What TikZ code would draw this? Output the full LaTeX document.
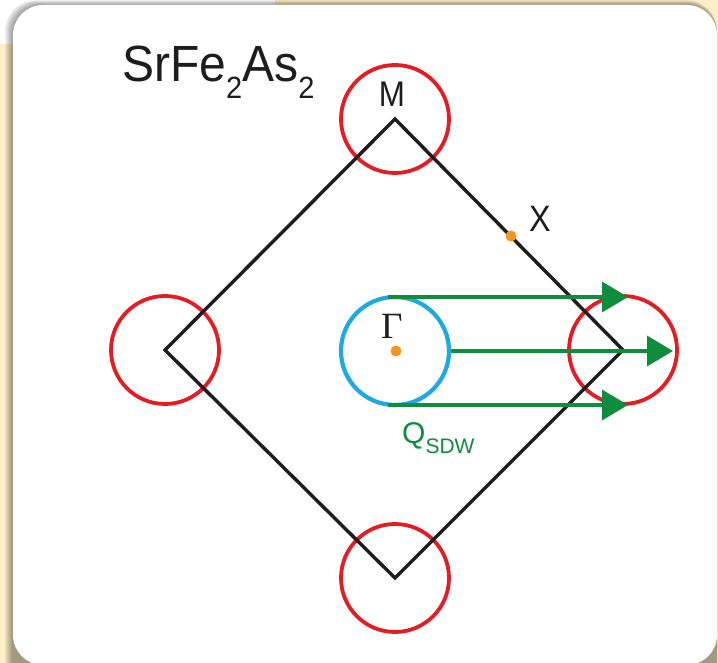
\documentclass[tikz,border=0pt]{standalone}
\usepackage{fontspec}
\setmainfont{Liberation Sans}
\newfontfamily\serifgr{Liberation Serif}
\usetikzlibrary{arrows.meta}
\definecolor{fsred}{RGB}{228,28,36}
\definecolor{fsblue}{RGB}{30,170,225}
\definecolor{fsgreen}{RGB}{15,140,60}
\definecolor{fsorange}{RGB}{245,150,30}
\definecolor{fsblack}{RGB}{30,28,28}
\definecolor{bgbeige}{RGB}{252,238,200}
\begin{document}
\begin{tikzpicture}[x=1pt,y=-1pt,
  pocket/.style={circle, draw=fsred, line width=3.8pt, minimum size=108pt, inner sep=0pt},
  gpocket/.style={circle, draw=fsblue, line width=4.2pt, minimum size=108pt, inner sep=0pt},
  dot/.style={circle, fill=fsorange, minimum size=11pt, inner sep=0pt},
  qarrow/.style={draw=fsgreen, line width=3.6pt, -{Triangle[length=26pt,width=30pt]}},
  lbl/.style={inner sep=0pt, text=fsblack}]
\useasboundingbox (0,0) rectangle (718,663);
\clip (0,0) rectangle (718,663);
% background
\fill[bgbeige] (0,0) rectangle (718,663);
\fill[white] (0,0) rectangle (275,44);
\foreach \i in {1,...,8}
  \fill[black, opacity=0.05, rounded corners=30pt] (13-\i,5-0.6*\i) rectangle (717,700);
\fill[white, rounded corners=30pt] (13,5) rectangle (717,665);
% pockets
\node[pocket] (cM) at (395,119) {};
\node[pocket] (cL) at (165,350) {};
\node[pocket] (cR) at (623,350) {};
\node[pocket] (cB) at (395,578) {};
% zone boundary
\draw[fsblack, line width=3.4pt, line join=miter] (cM.center) -- (cR.center) -- (cB.center) -- (cL.center) -- cycle;
\node[gpocket] (cG) at (395,351) {};
% dots
\node[dot] (gdot) at (396,351) {};
\node[dot] (xdot) at (511,236) {};
% arrows
\coordinate (a1s) at (388,297);
\coordinate (a1e) at (628,297);
\coordinate (a2e) at (673,351);
\coordinate (a3s) at (388,405);
\coordinate (a3e) at (628,405);
\draw[qarrow] (a1s) -- (a1e);
\draw[qarrow] (cG.east) -- (a2e);
\draw[qarrow] (a3s) -- (a3e);
% labels
\node[lbl, anchor=base] (lM) at (392,107) {\scalebox{0.95}[1.08]{\fontsize{33}{33}\selectfont M}};
\node[lbl, anchor=base west] (lX) at (529,232) {\scalebox{0.95}[1.08]{\fontsize{34}{34}\selectfont X}};
\node[lbl, anchor=base west] (lG) at (381,338) {\serifgr\fontsize{37}{37}\selectfont Γ};
\node[inner sep=0pt, anchor=base west, text=fsgreen] (lQ) at (402,443)
  {\fontsize{30}{30}\selectfont Q\raisebox{-10pt}{\fontsize{21}{21}\selectfont SDW}};
\node[lbl, anchor=base west] (title) at (122,82)
  {\scalebox{1.0}[1.06]{\fontsize{48}{48}\selectfont SrFe\raisebox{-16pt}{\fontsize{29}{29}\selectfont 2}As\raisebox{-16pt}{\fontsize{29}{29}\selectfont 2}}};
\end{tikzpicture}
\end{document}
